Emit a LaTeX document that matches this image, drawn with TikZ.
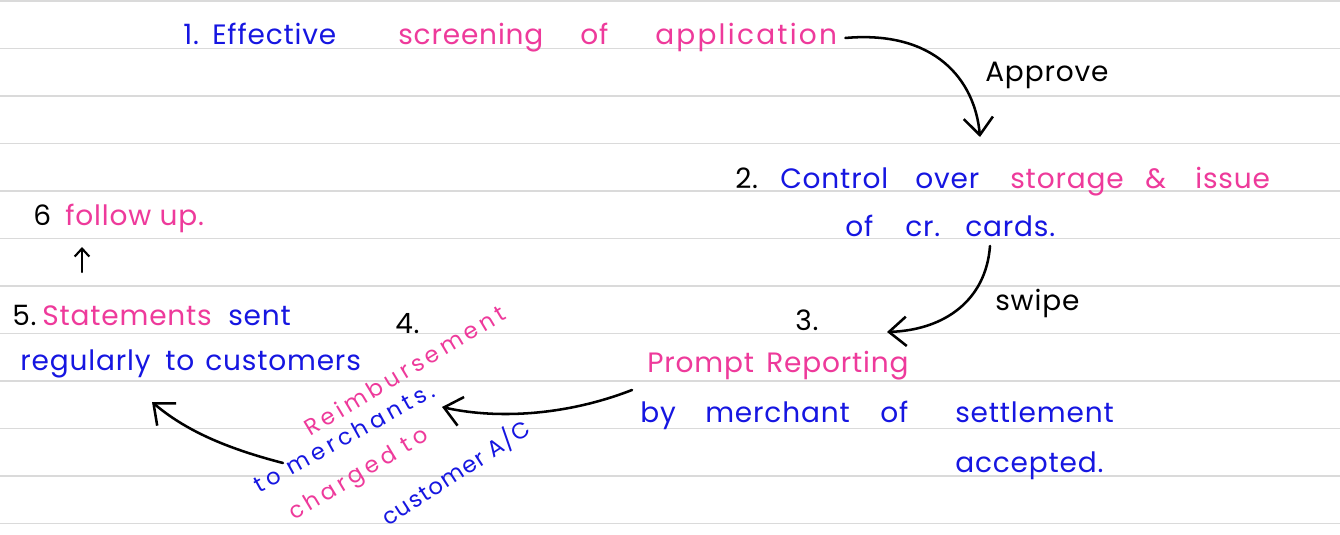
\documentclass[tikz,border=0pt]{standalone}
\usepackage{fontspec}
\setmainfont{Poppins}
\usetikzlibrary{arrows.meta}
\definecolor{inkblue}{RGB}{22,22,225}
\definecolor{inkpink}{RGB}{238,58,155}
\definecolor{rulegrey}{RGB}{218,218,218}
\tikzset{
  txt/.style={inner sep=0pt, anchor=base west,
    font=\fontsize{21}{24}\selectfont\addfontfeatures{LetterSpace=3}},
  rot/.style={font=\fontsize{17}{20}\selectfont\addfontfeatures{LetterSpace=18}},
  bl/.style={txt, text=inkblue},
  pk/.style={txt, text=inkpink},
  bk/.style={txt, text=black},
  arr/.style={draw=black, line width=1.9pt, line cap=round,
    -{Straight Barb[length=13pt,width=22pt,line width=1.9pt]}},
  smallarr/.style={draw=black, line width=1.6pt, line cap=round,
    -{Straight Barb[length=6pt,width=11pt,line width=1.6pt]}},
  ruled/.style={draw=rulegrey, line width=1.2pt},
}
\begin{document}
\begin{tikzpicture}[x=0.75pt,y=-0.75pt]
\fill[white] (0,0) rectangle (1340,535);
\useasboundingbox (0,0) rectangle (1340,535);
\foreach \k in {0,...,11} \draw[ruled] (0,{1+47.5*\k}) -- (1340,{1+47.5*\k});

% step 1
\node[bl] (n1)  at (183,45) {1.};
\node[bl] (eff) at (212,45) {Effective};
\node[pk] (scr) at (398,45) {screening};
\node[pk] (of1) at (580,45) {of};
\node[pk, font=\fontsize{21}{24}\selectfont\addfontfeatures{LetterSpace=8}] (app) at (655,45) {application};
\node[bk] (appr) at (985,82) {Approve};

% step 2
\node[bk] (n2)   at (735,188) {2.};
\node[bl] (ctrl) at (780,188) {Control};
\node[bl] (over) at (915,188) {over};
\node[pk] (stor) at (1010,188) {storage};
\node[pk] (amp)  at (1145,188) {\&};
\node[pk] (iss)  at (1195,188) {issue};
\node[bl] (of2)  at (845,236) {of};
\node[bl] (cr)   at (905,236) {cr.};
\node[bl] (cards) at (965,236) {cards.};
\node[bk] (swipe) at (995,310) {swipe};

% step 3
\node[bk] (n3)     at (795,330) {3.};
\node[pk] (prompt) at (647,372) {Prompt};
\node[pk] (repo)   at (766,372) {Reporting};
\node[bl] (by)     at (640,422) {by};
\node[bl] (merch)  at (705,422) {merchant};
\node[bl] (of3)    at (880,422) {of};
\node[bl] (settl)  at (955,422) {settlement};
\node[bl] (acc)    at (955,472) {accepted.};

% step 4
\node[bk] (n4) at (395,333) {4.};
\node[pk, rot, rotate=31] (reim)    at (310,437) {Reimbursement};
\node[bl, rot, rotate=29] (tomer)   at (259,494) {to merchants.};
\node[pk, rot, rotate=31] (charged) at (294,521) {charged to};
\node[bl, rot, rotate=33, font=\fontsize{17}{20}\selectfont\addfontfeatures{LetterSpace=6}] (custac) at (388,527) {customer A/C};

% step 5
\node[bk] (n5)   at (12,325) {5.};
\node[pk] (stat) at (42,325) {Statements};
\node[bl] (sent) at (228,325) {sent};
\node[bl] (reg)  at (20,370) {regularly};
\node[bl] (to5)  at (165,370) {to};
\node[bl] (cust) at (205,370) {customers};

% step 6
\node[bk] (n6)     at (33,225) {6};
\node[pk] (follow) at (65,225) {follow up.};

% connector end points
\coordinate (e1) at (980,137);
\coordinate (s2) at (990,246);
\coordinate (e2) at (887,332);
\coordinate (s3) at (632,390);
\coordinate (e3) at (442,407);
\coordinate (s4) at (283,463);
\coordinate (e4) at (152,402);
\coordinate (s5) at (82,272);
\coordinate (e5) at (82,247);

\draw[arr] (app.east) ++(8,0) .. controls (935,30) and (975,80) .. (e1);
\draw[arr] (s2) .. controls (986,300) and (945,330) .. (e2);
\draw[arr] (s3) .. controls (560,418) and (490,418) .. (e3);
\draw[arr] (s4) .. controls (225,448) and (185,430) .. (e4);
\draw[smallarr] (s5) -- (e5);
\end{tikzpicture}
\end{document}
